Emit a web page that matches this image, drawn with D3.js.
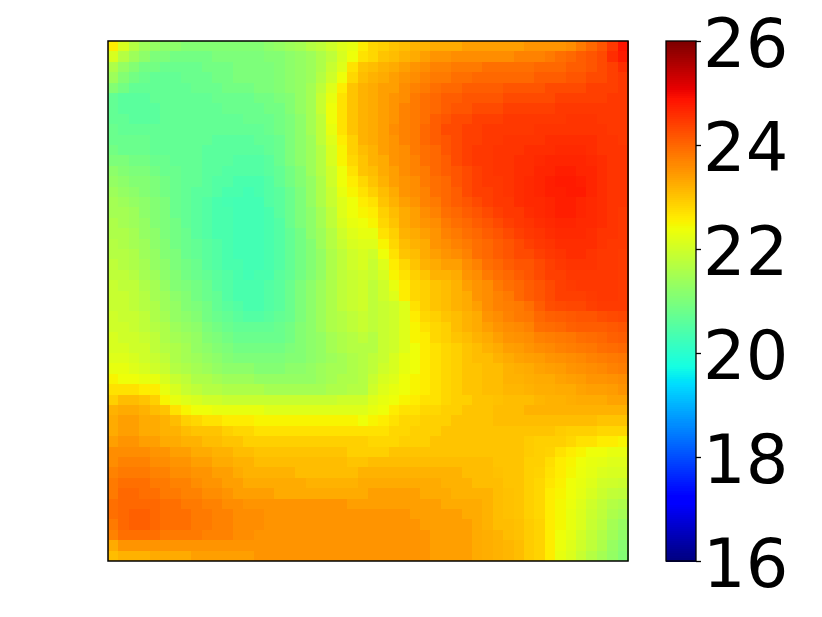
<!DOCTYPE html>
<html>
<head>
<meta charset="utf-8">
<script src="https://cdn.jsdelivr.net/npm/d3@7/dist/d3.min.js"></script>
<style>html,body{margin:0;padding:0;background:#fff}svg{display:block}</style>
</head>
<body>
<script>
const colorTicks = [16, 18, 20, 22, 24, 26];
const colorDomain = [16, 26];
const values = [
[22.6,22.1,21.7,21.4,21.3,21.2,21.2,21.1,21.1,21.1,21.1,21.1,21.1,21.1,21.1,21.2,21.3,21.4,21.5,21.7,21.8,22.0,22.2,22.3,22.6,22.8,22.9,23.0,23.1,23.2,23.2,23.3,23.3,23.3,23.4,23.4,23.4,23.4,23.4,23.4,23.5,23.5,23.5,23.5,23.6,23.8,24.0,24.2,24.5,24.9],
[22.1,21.7,21.4,21.2,21.0,21.0,20.9,20.9,20.9,20.9,21.0,21.0,21.0,21.0,21.0,21.1,21.1,21.2,21.3,21.4,21.6,21.8,22.1,22.4,22.7,22.8,23.0,23.1,23.2,23.3,23.4,23.5,23.5,23.6,23.6,23.6,23.6,23.6,23.6,23.7,23.7,23.7,23.8,23.9,24.0,24.1,24.2,24.3,24.6,24.8],
[21.6,21.3,21.1,20.9,20.9,20.8,20.8,20.8,20.8,20.9,20.9,20.9,21.0,21.0,21.0,21.0,21.1,21.2,21.3,21.4,21.6,21.9,22.2,22.7,23.0,23.1,23.2,23.3,23.4,23.5,23.6,23.7,23.7,23.8,23.8,23.8,23.9,23.9,23.9,23.9,23.9,24.0,24.0,24.0,24.1,24.1,24.2,24.3,24.4,24.6],
[21.4,21.1,20.9,20.8,20.7,20.7,20.7,20.8,20.8,20.8,20.9,20.9,21.0,21.0,21.0,21.0,21.1,21.2,21.3,21.4,21.7,22.0,22.4,22.8,23.1,23.2,23.3,23.4,23.5,23.6,23.7,23.8,23.8,23.9,23.9,24.0,24.0,24.0,24.0,24.0,24.0,24.1,24.1,24.1,24.2,24.2,24.3,24.3,24.4,24.5],
[21.1,20.9,20.7,20.7,20.7,20.7,20.7,20.7,20.8,20.8,20.8,20.9,20.9,20.9,21.0,21.0,21.1,21.2,21.3,21.5,21.8,22.2,22.6,23.0,23.2,23.3,23.4,23.4,23.6,23.7,23.8,23.9,24.0,24.0,24.1,24.1,24.1,24.1,24.2,24.2,24.2,24.2,24.3,24.3,24.3,24.3,24.4,24.4,24.4,24.5],
[20.7,20.6,20.6,20.6,20.7,20.7,20.7,20.7,20.7,20.7,20.8,20.8,20.8,20.8,20.9,20.9,21.0,21.1,21.3,21.5,21.9,22.3,22.7,23.0,23.2,23.3,23.4,23.5,23.6,23.8,23.9,24.0,24.1,24.1,24.2,24.2,24.2,24.2,24.3,24.3,24.3,24.3,24.3,24.4,24.4,24.4,24.4,24.4,24.5,24.5],
[20.7,20.6,20.6,20.6,20.6,20.7,20.7,20.7,20.7,20.7,20.7,20.8,20.8,20.8,20.8,20.9,20.9,21.1,21.3,21.5,21.9,22.4,22.7,23.0,23.2,23.3,23.4,23.5,23.7,23.8,23.9,24.0,24.1,24.2,24.2,24.3,24.3,24.3,24.4,24.4,24.4,24.4,24.4,24.5,24.5,24.5,24.5,24.5,24.5,24.5],
[20.7,20.7,20.6,20.6,20.6,20.7,20.7,20.7,20.7,20.7,20.7,20.7,20.7,20.8,20.8,20.8,20.9,21.0,21.2,21.5,21.8,22.4,22.7,23.0,23.2,23.3,23.4,23.5,23.7,23.8,23.9,24.1,24.2,24.3,24.3,24.4,24.4,24.4,24.5,24.5,24.5,24.5,24.5,24.5,24.55,24.55,24.55,24.5,24.5,24.5],
[20.8,20.7,20.7,20.7,20.7,20.7,20.7,20.7,20.7,20.7,20.7,20.7,20.7,20.7,20.7,20.8,20.9,21.0,21.2,21.5,21.8,22.3,22.7,23.0,23.2,23.3,23.4,23.6,23.7,23.8,24.0,24.1,24.3,24.3,24.4,24.4,24.5,24.5,24.5,24.5,24.5,24.55,24.55,24.55,24.55,24.55,24.55,24.55,24.5,24.5],
[20.8,20.8,20.8,20.8,20.7,20.7,20.7,20.7,20.7,20.7,20.6,20.6,20.6,20.6,20.7,20.7,20.8,21.0,21.2,21.4,21.8,22.2,22.6,22.9,23.2,23.3,23.4,23.5,23.7,23.8,24.0,24.1,24.2,24.3,24.4,24.4,24.5,24.5,24.55,24.55,24.55,24.55,24.6,24.6,24.6,24.6,24.6,24.55,24.55,24.5],
[20.9,20.8,20.8,20.8,20.7,20.7,20.7,20.7,20.7,20.6,20.6,20.6,20.6,20.6,20.6,20.7,20.8,21.0,21.2,21.4,21.7,22.1,22.5,22.9,23.1,23.2,23.4,23.5,23.6,23.8,23.9,24.0,24.2,24.3,24.4,24.5,24.5,24.55,24.55,24.55,24.6,24.6,24.6,24.65,24.65,24.65,24.6,24.55,24.55,24.55],
[21.0,21.0,20.9,20.9,20.8,20.8,20.7,20.7,20.7,20.6,20.6,20.6,20.5,20.5,20.5,20.6,20.8,21.0,21.2,21.4,21.7,22.1,22.5,22.8,23.0,23.2,23.3,23.5,23.6,23.7,23.9,24.0,24.1,24.3,24.4,24.5,24.5,24.55,24.55,24.6,24.6,24.65,24.7,24.7,24.7,24.7,24.65,24.6,24.55,24.55],
[21.2,21.1,21.0,21.0,20.9,20.8,20.8,20.7,20.7,20.6,20.6,20.5,20.5,20.5,20.5,20.6,20.7,20.9,21.1,21.4,21.7,22.0,22.4,22.7,23.0,23.1,23.3,23.4,23.6,23.7,23.8,24.0,24.1,24.2,24.3,24.4,24.5,24.55,24.55,24.6,24.6,24.7,24.7,24.75,24.75,24.7,24.7,24.6,24.55,24.55],
[21.3,21.2,21.1,21.1,21.0,20.9,20.8,20.7,20.7,20.6,20.5,20.5,20.4,20.4,20.4,20.5,20.7,20.9,21.1,21.3,21.6,22.0,22.4,22.6,22.8,23.0,23.2,23.4,23.5,23.6,23.8,23.9,24.0,24.2,24.3,24.4,24.5,24.5,24.55,24.6,24.65,24.7,24.75,24.8,24.8,24.75,24.7,24.6,24.55,24.55],
[21.4,21.3,21.2,21.1,21.0,20.9,20.8,20.7,20.6,20.6,20.5,20.4,20.4,20.3,20.4,20.5,20.6,20.8,21.0,21.3,21.6,21.9,22.3,22.5,22.7,22.9,23.1,23.3,23.5,23.6,23.7,23.9,24.0,24.1,24.3,24.4,24.4,24.5,24.55,24.6,24.65,24.7,24.75,24.75,24.8,24.8,24.7,24.6,24.55,24.55],
[21.5,21.4,21.3,21.2,21.1,21.0,20.8,20.7,20.6,20.5,20.4,20.35,20.3,20.3,20.3,20.5,20.6,20.8,21.0,21.3,21.6,21.9,22.2,22.4,22.6,22.7,23.0,23.2,23.4,23.5,23.7,23.8,24.0,24.1,24.2,24.3,24.4,24.5,24.5,24.6,24.65,24.65,24.7,24.75,24.75,24.7,24.65,24.6,24.55,24.55],
[21.5,21.5,21.4,21.2,21.1,21.0,20.8,20.7,20.6,20.5,20.4,20.4,20.3,20.3,20.3,20.4,20.6,20.8,21.0,21.2,21.5,21.8,22.2,22.4,22.5,22.6,22.9,23.1,23.3,23.4,23.6,23.7,23.9,24.0,24.1,24.2,24.3,24.4,24.5,24.5,24.6,24.65,24.7,24.75,24.75,24.7,24.65,24.6,24.55,24.5],
[21.6,21.5,21.4,21.3,21.1,21.0,20.9,20.7,20.6,20.5,20.4,20.4,20.3,20.3,20.3,20.4,20.5,20.8,21.0,21.2,21.5,21.8,22.1,22.3,22.4,22.5,22.8,23.0,23.3,23.4,23.5,23.6,23.8,23.9,24.0,24.1,24.2,24.3,24.4,24.5,24.55,24.6,24.65,24.7,24.7,24.65,24.65,24.6,24.55,24.5],
[21.6,21.6,21.5,21.3,21.2,21.0,20.9,20.8,20.6,20.5,20.4,20.4,20.3,20.3,20.3,20.4,20.5,20.7,20.9,21.2,21.4,21.7,22.0,22.2,22.3,22.3,22.7,22.9,23.2,23.3,23.4,23.5,23.7,23.8,23.9,24.0,24.1,24.2,24.3,24.4,24.5,24.55,24.6,24.65,24.65,24.65,24.6,24.55,24.55,24.5],
[21.7,21.6,21.5,21.4,21.2,21.1,20.9,20.8,20.7,20.6,20.5,20.4,20.3,20.3,20.3,20.4,20.5,20.7,20.9,21.1,21.4,21.7,21.9,22.1,22.2,22.2,22.5,22.8,23.1,23.2,23.3,23.5,23.6,23.7,23.8,23.9,24.0,24.1,24.2,24.3,24.4,24.5,24.55,24.6,24.6,24.6,24.6,24.55,24.5,24.5],
[21.7,21.7,21.6,21.4,21.3,21.1,21.0,20.8,20.7,20.6,20.5,20.4,20.3,20.3,20.3,20.4,20.5,20.7,20.9,21.1,21.3,21.6,21.8,22.0,22.1,22.0,22.4,22.7,23.0,23.1,23.3,23.4,23.5,23.6,23.7,23.9,24.0,24.1,24.2,24.3,24.3,24.4,24.5,24.55,24.6,24.6,24.55,24.5,24.5,24.45],
[21.8,21.7,21.6,21.5,21.3,21.2,21.0,20.9,20.8,20.6,20.5,20.4,20.4,20.3,20.3,20.4,20.5,20.7,20.9,21.1,21.3,21.6,21.8,22.0,22.1,21.9,22.2,22.6,22.8,23.0,23.2,23.3,23.4,23.4,23.6,23.7,23.9,24.0,24.1,24.2,24.2,24.3,24.4,24.5,24.55,24.55,24.55,24.5,24.5,24.45],
[21.8,21.8,21.7,21.5,21.4,21.2,21.1,20.9,20.8,20.7,20.6,20.5,20.4,20.3,20.4,20.4,20.6,20.7,20.9,21.1,21.3,21.6,21.8,21.9,22.0,21.9,22.1,22.5,22.7,22.9,23.0,23.2,23.2,23.3,23.5,23.6,23.8,23.9,24.0,24.1,24.2,24.3,24.4,24.4,24.5,24.5,24.5,24.5,24.5,24.45],
[21.9,21.8,21.8,21.6,21.5,21.3,21.1,21.0,20.9,20.8,20.6,20.5,20.4,20.4,20.4,20.5,20.6,20.8,21.0,21.2,21.4,21.6,21.8,21.9,22.0,21.8,22.0,22.3,22.6,22.8,22.9,23.0,23.1,23.2,23.4,23.5,23.6,23.8,23.9,24.0,24.1,24.2,24.3,24.4,24.45,24.5,24.5,24.5,24.5,24.45],
[21.9,21.9,21.8,21.7,21.5,21.4,21.2,21.1,20.9,20.8,20.7,20.5,20.4,20.4,20.4,20.5,20.6,20.8,21.0,21.2,21.4,21.6,21.8,21.9,22.0,21.8,22.0,22.2,22.6,22.8,22.9,23.0,23.1,23.2,23.3,23.5,23.6,23.7,23.8,24.0,24.1,24.2,24.3,24.4,24.4,24.4,24.45,24.5,24.5,24.45],
[21.9,21.9,21.8,21.7,21.6,21.4,21.3,21.1,21.0,20.9,20.7,20.6,20.5,20.4,20.4,20.5,20.6,20.8,21.0,21.2,21.4,21.6,21.8,21.9,22.0,21.8,21.9,22.0,22.2,22.7,22.9,23.0,23.1,23.2,23.3,23.4,23.6,23.7,23.75,23.8,23.9,24.1,24.25,24.3,24.35,24.35,24.4,24.45,24.45,24.45],
[22.0,21.9,21.9,21.8,21.6,21.5,21.3,21.2,21.1,20.9,20.8,20.7,20.6,20.5,20.5,20.6,20.7,20.8,21.0,21.2,21.4,21.6,21.7,21.8,21.9,21.8,21.9,22.0,22.2,22.6,22.8,22.9,23.0,23.1,23.2,23.3,23.5,23.6,23.7,23.8,23.85,24.0,24.05,24.1,24.15,24.2,24.2,24.25,24.3,24.35],
[22.0,22.0,21.9,21.8,21.7,21.6,21.4,21.3,21.2,21.0,20.9,20.8,20.7,20.7,20.7,20.7,20.8,20.9,21.1,21.2,21.4,21.6,21.7,21.8,21.9,21.8,21.9,22.0,22.2,22.5,22.7,22.8,22.9,23.1,23.2,23.3,23.4,23.5,23.6,23.65,23.7,23.9,23.95,24.0,24.05,24.1,24.1,24.1,24.15,24.2],
[22.1,22.0,22.0,21.9,21.8,21.6,21.5,21.4,21.3,21.1,21.0,20.9,20.8,20.8,20.8,20.8,20.8,20.9,21.1,21.2,21.3,21.5,21.6,21.7,21.8,21.7,21.9,22.0,22.2,22.5,22.6,22.8,22.9,23.0,23.1,23.2,23.3,23.4,23.5,23.55,23.6,23.7,23.75,23.8,23.85,23.9,23.95,24.0,24.05,24.1],
[22.1,22.1,22.0,22.0,21.8,21.7,21.6,21.5,21.3,21.2,21.1,21.0,20.9,20.9,20.9,20.9,20.9,21.0,21.1,21.2,21.3,21.5,21.6,21.7,21.7,21.7,21.9,22.0,22.2,22.4,22.6,22.7,22.8,22.9,23.0,23.1,23.2,23.3,23.4,23.45,23.5,23.6,23.65,23.7,23.75,23.8,23.85,23.9,23.95,24.0],
[22.2,22.2,22.1,22.0,21.9,21.8,21.6,21.5,21.4,21.3,21.2,21.1,21.0,21.0,21.0,21.0,21.0,21.1,21.1,21.2,21.3,21.4,21.5,21.6,21.7,21.8,21.9,22.1,22.3,22.4,22.6,22.7,22.8,22.9,23.0,23.1,23.1,23.2,23.3,23.35,23.4,23.45,23.5,23.55,23.6,23.65,23.7,23.75,23.8,23.85],
[22.3,22.3,22.2,22.1,22.0,21.9,21.7,21.6,21.5,21.4,21.3,21.2,21.2,21.2,21.1,21.1,21.1,21.2,21.2,21.3,21.4,21.5,21.5,21.6,21.7,21.8,22.0,22.1,22.3,22.4,22.6,22.7,22.8,22.9,23.0,23.0,23.1,23.1,23.2,23.25,23.3,23.35,23.4,23.45,23.5,23.55,23.6,23.65,23.7,23.75],
[22.5,22.4,22.4,22.3,22.3,22.1,21.9,21.8,21.6,21.6,21.5,21.4,21.4,21.4,21.3,21.3,21.3,21.3,21.3,21.3,21.4,21.5,21.6,21.6,21.7,21.9,22.1,22.2,22.4,22.5,22.6,22.7,22.8,22.9,23.0,23.0,23.1,23.1,23.2,23.2,23.25,23.3,23.3,23.35,23.4,23.45,23.5,23.5,23.55,23.6],
[22.7,22.7,22.7,22.6,22.6,22.3,22.1,21.9,21.8,21.7,21.7,21.6,21.6,21.6,21.6,21.5,21.5,21.5,21.5,21.5,21.5,21.6,21.6,21.7,21.7,22.0,22.2,22.3,22.4,22.5,22.6,22.7,22.8,22.9,23.0,23.0,23.1,23.1,23.15,23.15,23.2,23.25,23.25,23.3,23.3,23.35,23.4,23.4,23.45,23.5],
[22.9,23.1,23.1,23.0,22.9,22.5,22.3,22.2,22.1,22.0,22.0,21.9,21.9,21.9,21.9,21.9,21.9,21.9,21.9,21.9,21.9,21.9,22.0,22.0,22.0,22.2,22.3,22.4,22.5,22.6,22.7,22.7,22.8,22.9,22.9,23.0,23.0,23.05,23.1,23.1,23.1,23.15,23.2,23.2,23.25,23.3,23.3,23.3,23.35,23.35],
[23.2,23.3,23.3,23.2,23.1,23.0,22.7,22.5,22.4,22.4,22.3,22.3,22.3,22.3,22.3,22.2,22.2,22.2,22.2,22.2,22.2,22.2,22.2,22.2,22.2,22.3,22.4,22.6,22.7,22.7,22.8,22.8,22.9,22.9,23.0,23.0,23.0,23.1,23.1,23.1,23.2,23.2,23.2,23.2,23.2,23.2,23.2,23.2,23.2,23.2],
[23.3,23.4,23.4,23.3,23.3,23.2,23.1,22.9,22.8,22.7,22.7,22.6,22.6,22.6,22.5,22.5,22.5,22.5,22.5,22.5,22.5,22.5,22.5,22.5,22.4,22.5,22.6,22.7,22.8,22.8,22.9,22.9,22.9,23.0,23.0,23.0,23.0,23.1,23.1,23.1,23.1,23.1,23.1,23.1,23.1,23.1,23.1,23.0,23.0,23.0],
[23.3,23.4,23.4,23.3,23.3,23.2,23.2,23.1,23.0,23.0,23.0,22.9,22.8,22.8,22.7,22.7,22.7,22.7,22.7,22.7,22.7,22.7,22.7,22.7,22.7,22.7,22.7,22.8,22.8,22.9,22.9,22.9,23.0,23.0,23.0,23.0,23.0,23.0,23.0,23.0,23.0,23.0,23.0,22.95,22.9,22.9,22.9,22.8,22.8,22.8],
[23.4,23.5,23.5,23.4,23.4,23.3,23.3,23.2,23.2,23.1,23.1,23.0,23.0,22.9,22.9,22.9,22.9,22.9,22.9,22.9,22.9,22.9,22.9,22.9,22.9,22.8,22.8,22.8,22.9,22.9,22.9,23.0,23.0,23.0,23.0,23.0,23.0,23.0,23.0,23.0,22.95,22.9,22.9,22.9,22.8,22.7,22.7,22.6,22.6,22.5],
[23.6,23.6,23.6,23.6,23.5,23.5,23.4,23.4,23.3,23.3,23.2,23.2,23.1,23.1,23.0,23.0,23.0,23.0,23.0,23.0,23.0,23.0,23.0,22.9,22.9,22.9,22.9,23.0,23.0,23.0,23.0,23.0,23.0,23.0,23.0,23.0,23.0,23.0,23.0,23.0,22.95,22.9,22.85,22.7,22.6,22.5,22.4,22.4,22.3,22.3],
[23.6,23.7,23.7,23.7,23.6,23.6,23.5,23.5,23.4,23.4,23.3,23.3,23.2,23.2,23.1,23.1,23.1,23.1,23.1,23.1,23.1,23.1,23.1,23.0,23.0,23.1,23.1,23.1,23.1,23.1,23.1,23.1,23.1,23.1,23.1,23.1,23.1,23.0,23.0,23.0,22.9,22.9,22.75,22.6,22.5,22.4,22.3,22.25,22.2,22.2],
[23.7,23.8,23.8,23.8,23.7,23.7,23.6,23.6,23.5,23.5,23.4,23.4,23.3,23.2,23.2,23.2,23.2,23.2,23.1,23.1,23.1,23.1,23.1,23.1,23.2,23.2,23.2,23.2,23.2,23.2,23.2,23.2,23.2,23.2,23.1,23.1,23.1,23.05,23.0,23.0,22.9,22.85,22.7,22.6,22.45,22.35,22.25,22.15,22.1,22.1],
[23.8,23.9,23.9,23.9,23.8,23.8,23.7,23.7,23.6,23.5,23.5,23.4,23.4,23.3,23.3,23.3,23.3,23.3,23.3,23.2,23.2,23.2,23.2,23.2,23.3,23.3,23.3,23.3,23.3,23.3,23.3,23.3,23.2,23.2,23.2,23.1,23.1,23.1,23.0,23.0,22.9,22.8,22.65,22.55,22.4,22.3,22.2,22.05,22.0,21.95],
[23.8,24.0,24.0,23.9,23.9,23.8,23.8,23.7,23.7,23.6,23.6,23.5,23.4,23.4,23.4,23.4,23.3,23.3,23.3,23.3,23.3,23.3,23.3,23.3,23.3,23.4,23.4,23.4,23.4,23.4,23.3,23.3,23.3,23.2,23.2,23.2,23.2,23.1,23.05,23.0,22.9,22.8,22.6,22.5,22.4,22.25,22.1,21.95,21.85,21.8],
[23.9,24.0,24.0,24.0,24.0,23.9,23.9,23.8,23.8,23.7,23.7,23.6,23.6,23.5,23.5,23.5,23.5,23.5,23.5,23.5,23.5,23.5,23.5,23.4,23.4,23.4,23.4,23.4,23.4,23.4,23.4,23.4,23.3,23.3,23.3,23.3,23.2,23.1,23.05,23.0,22.9,22.8,22.6,22.45,22.35,22.2,22.0,21.85,21.7,21.6],
[23.9,24.0,24.05,24.05,24.0,23.9,23.9,23.9,23.8,23.8,23.7,23.7,23.6,23.6,23.6,23.5,23.5,23.5,23.5,23.5,23.5,23.5,23.5,23.5,23.5,23.5,23.5,23.5,23.5,23.4,23.4,23.4,23.4,23.4,23.3,23.3,23.2,23.1,23.05,23.0,22.9,22.8,22.6,22.45,22.3,22.15,21.95,21.8,21.6,21.5],
[23.8,24.0,24.05,24.05,24.0,23.9,23.9,23.9,23.8,23.8,23.7,23.7,23.6,23.6,23.6,23.5,23.5,23.5,23.5,23.5,23.5,23.5,23.5,23.5,23.5,23.5,23.5,23.5,23.5,23.5,23.4,23.4,23.4,23.4,23.4,23.3,23.2,23.1,23.1,23.05,22.95,22.85,22.6,22.45,22.3,22.15,21.9,21.75,21.5,21.35],
[23.7,23.9,23.9,23.9,23.9,23.8,23.8,23.8,23.8,23.7,23.7,23.7,23.6,23.6,23.5,23.5,23.5,23.5,23.5,23.5,23.5,23.5,23.5,23.5,23.5,23.5,23.5,23.5,23.5,23.5,23.5,23.4,23.4,23.4,23.4,23.3,23.25,23.2,23.1,23.05,22.95,22.85,22.6,22.4,22.25,22.05,21.85,21.65,21.45,21.25],
[23.3,23.5,23.5,23.5,23.5,23.5,23.5,23.5,23.5,23.5,23.5,23.5,23.5,23.5,23.5,23.5,23.5,23.5,23.5,23.5,23.5,23.5,23.5,23.5,23.5,23.5,23.5,23.5,23.5,23.5,23.5,23.4,23.4,23.4,23.4,23.3,23.25,23.2,23.15,23.1,22.95,22.85,22.6,22.35,22.2,22.0,21.8,21.6,21.35,21.15],
[23.1,23.2,23.2,23.2,23.3,23.3,23.3,23.3,23.4,23.4,23.4,23.4,23.4,23.4,23.5,23.5,23.5,23.5,23.5,23.5,23.5,23.5,23.5,23.5,23.5,23.5,23.5,23.5,23.5,23.5,23.5,23.4,23.4,23.4,23.4,23.3,23.25,23.2,23.15,23.1,22.95,22.85,22.6,22.3,22.15,21.9,21.7,21.5,21.3,21.1]
];

const W = 822, H = 617;
const heat = {left: 108, right: 628, top: 41, bottom: 561};
const bar = {left: 666, right: 696, top: 41, bottom: 561};

// Matplotlib's jet colormap, expressed as one linear scale per channel
const jetR = d3.scaleLinear().domain([0, .35, .66, .89, 1]).range([0, 0, 1, 1, .5]);
const jetG = d3.scaleLinear().domain([0, .125, .375, .64, .91, 1]).range([0, 0, 1, 1, 0, 0]);
const jetB = d3.scaleLinear().domain([0, .11, .34, .65, 1]).range([.5, 1, 1, 0, 0]);
const jet = t => {
  const q = Math.min(255, Math.floor(t * 256)) / 255;
  return d3.rgb(jetR(q) * 255, jetG(q) * 255, jetB(q) * 255).formatRgb();
};
const color = d3.scaleSequential(jet).domain(colorDomain).clamp(true);

const svg = d3.select("body").append("svg").attr("width", W).attr("height", H);

const n = values.length;
const x = d3.scaleBand().domain(d3.range(n)).range([heat.left, heat.right]);
const y = d3.scaleBand().domain(d3.range(n)).range([heat.top, heat.bottom]);

const rowsG = svg.append("g").attr("shape-rendering", "crispEdges");
rowsG.selectAll("g").data(values).join("g")
  .attr("transform", (d, j) => `translate(0,${y(j)})`)
  .selectAll("rect").data(d => d).join("rect")
  .attr("x", (d, i) => x(i))
  .attr("width", x.bandwidth() + 0.5)
  .attr("height", y.bandwidth() + 0.5)
  .attr("fill", d => color(d));

svg.append("rect")
  .attr("x", heat.left).attr("y", heat.top)
  .attr("width", heat.right - heat.left).attr("height", heat.bottom - heat.top)
  .attr("fill", "none").attr("stroke", "#000").attr("stroke-width", 1.5);

// Colour bar
const cbY = d3.scaleLinear().domain(colorDomain).range([bar.bottom, bar.top]);
const levels = d3.range(256).map(i => colorDomain[0] + (i + 0.5) / 256 * (colorDomain[1] - colorDomain[0]));
const step = (colorDomain[1] - colorDomain[0]) / 256;
svg.append("g").attr("shape-rendering", "crispEdges")
  .selectAll("rect").data(levels).join("rect")
  .attr("x", bar.left)
  .attr("width", bar.right - bar.left)
  .attr("y", d => cbY(d + step / 2))
  .attr("height", d => cbY(d - step / 2) - cbY(d + step / 2) + 0.6)
  .attr("fill", d => color(d));

svg.append("rect")
  .attr("x", bar.left).attr("y", bar.top)
  .attr("width", bar.right - bar.left).attr("height", bar.bottom - bar.top)
  .attr("fill", "none").attr("stroke", "#000").attr("stroke-width", 1.3);

const axis = d3.axisRight(cbY).tickValues(colorTicks).tickSize(5).tickPadding(2).tickFormat(d3.format("d"));
const axG = svg.append("g").attr("transform", `translate(${bar.right},0)`).call(axis);
axG.select(".domain").remove();
axG.selectAll("line").attr("stroke", "#000").attr("stroke-width", 1.3);
axG.selectAll("text")
  .attr("fill", "#000")
  .attr("dy", "25px")
  .style("font-family", "'DejaVu Sans'")
  .style("font-size", "67px");
</script>
</body>
</html>
